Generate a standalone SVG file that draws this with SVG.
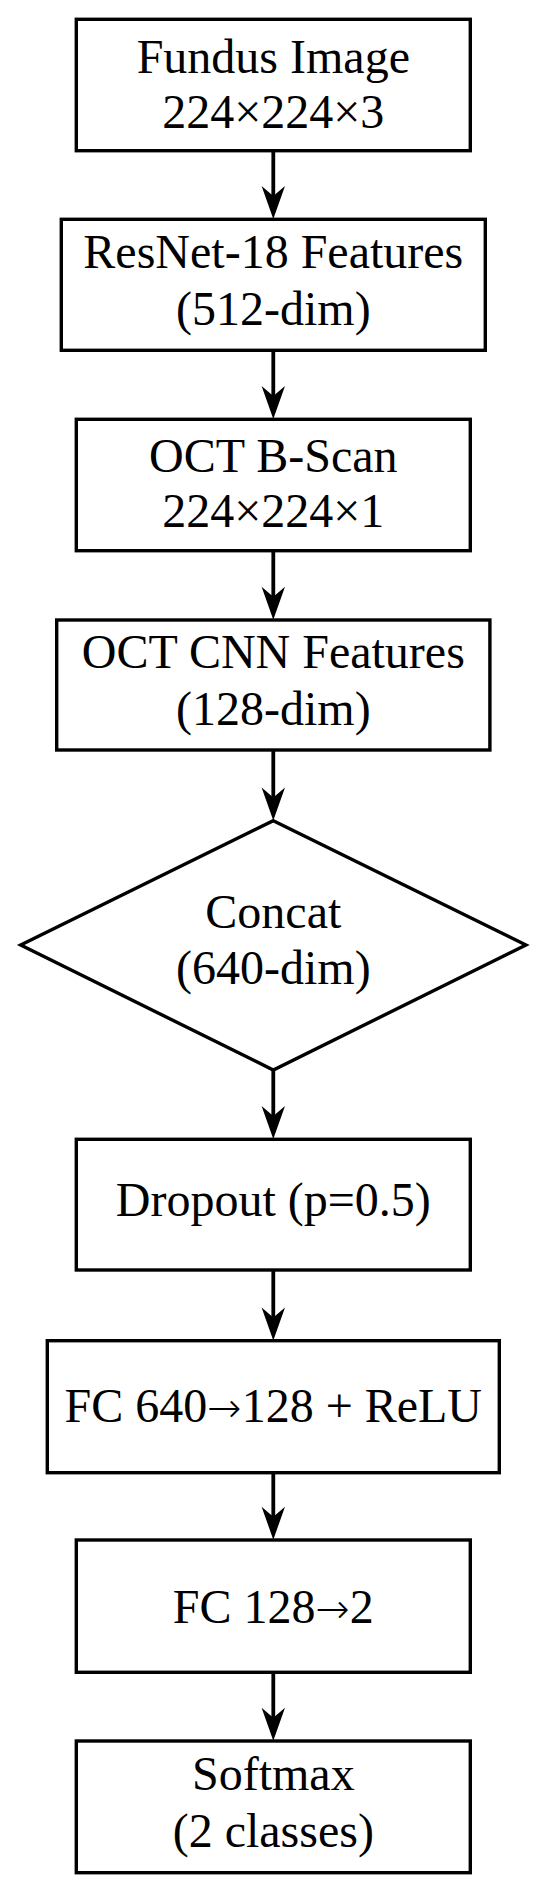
<svg xmlns="http://www.w3.org/2000/svg" width="550" height="1891" viewBox="0 0 550 1891">
<style>
.box{fill:#fff;stroke:#000;stroke-width:3.4}
.t{font-family:"Liberation Serif","Times New Roman",serif;font-size:48px;fill:#000;text-anchor:middle}
.ar{font-family:"DejaVu Sans",sans-serif;font-size:41px;font-weight:200}
.c{stroke:#000;stroke-width:3.8;fill:none}
</style>
<defs>
<marker id="ah" markerUnits="userSpaceOnUse" viewBox="0 0 36 26" refX="23" refY="13" markerWidth="36" markerHeight="26" orient="auto">
<path d="M35,13 L2,1.3 L12,13 L2,24.7 Z" fill="#000"/>
</marker>
</defs>
<rect width="550" height="1891" fill="#fff"/>
<g id="connectors">
<line class="c" x1="273.3" y1="150.7" x2="273.3" y2="207" marker-end="url(#ah)"/>
<line class="c" x1="273.3" y1="350.3" x2="273.3" y2="407" marker-end="url(#ah)"/>
<line class="c" x1="273.3" y1="550.7" x2="273.3" y2="607.7" marker-end="url(#ah)"/>
<line class="c" x1="273.3" y1="750" x2="273.3" y2="808.5" marker-end="url(#ah)"/>
<line class="c" x1="273.3" y1="1070" x2="273.3" y2="1127" marker-end="url(#ah)"/>
<line class="c" x1="273.3" y1="1270" x2="273.3" y2="1328.5" marker-end="url(#ah)"/>
<line class="c" x1="273.3" y1="1472.7" x2="273.3" y2="1527.7" marker-end="url(#ah)"/>
<line class="c" x1="273.3" y1="1672.3" x2="273.3" y2="1728.7" marker-end="url(#ah)"/>
</g>
<g id="fundus">
<rect class="box" x="76.3" y="19.3" width="394" height="131.4"/>
<text class="t" x="273.3" y="73.3">Fundus Image</text>
<text class="t" x="273.3" y="128.3">224×224×3</text>
</g>
<g id="resnet">
<rect class="box" x="61.3" y="219.3" width="424" height="131"/>
<text class="t" x="273.3" y="268.3">ResNet-18 Features</text>
<text class="t" x="273.3" y="325">(512-dim)</text>
</g>
<g id="oct">
<rect class="box" x="76.3" y="419.3" width="394" height="131.4"/>
<text class="t" x="273.3" y="472">OCT B-Scan</text>
<text class="t" x="273.3" y="527">224×224×1</text>
</g>
<g id="octcnn">
<rect class="box" x="56.7" y="620" width="433.2" height="130"/>
<text class="t" x="273.3" y="668.3">OCT CNN Features</text>
<text class="t" x="273.3" y="725">(128-dim)</text>
</g>
<g id="concat">
<polygon class="box" points="273.3,820.7 525.9,945 273.3,1070 20.7,945"/>
<text class="t" x="273.3" y="928.3">Concat</text>
<text class="t" x="273.3" y="984">(640-dim)</text>
</g>
<g id="dropout">
<rect class="box" x="76.3" y="1139.3" width="394" height="130.7"/>
<text class="t" x="273.3" y="1216">Dropout (p=0.5)</text>
</g>
<g id="fc1">
<rect class="box" x="47.3" y="1340.7" width="452" height="132"/>
<text class="t" x="273.3" y="1421.7">FC 640<tspan class="ar">→</tspan>128 + ReLU</text>
</g>
<g id="fc2">
<rect class="box" x="76.3" y="1540" width="394" height="132.3"/>
<text class="t" x="273.3" y="1622.7">FC 128<tspan class="ar">→</tspan>2</text>
</g>
<g id="softmax">
<rect class="box" x="76.3" y="1741" width="394" height="131.7"/>
<text class="t" x="273.3" y="1790">Softmax</text>
<text class="t" x="273.3" y="1846.7">(2 classes)</text>
</g>
</svg>
